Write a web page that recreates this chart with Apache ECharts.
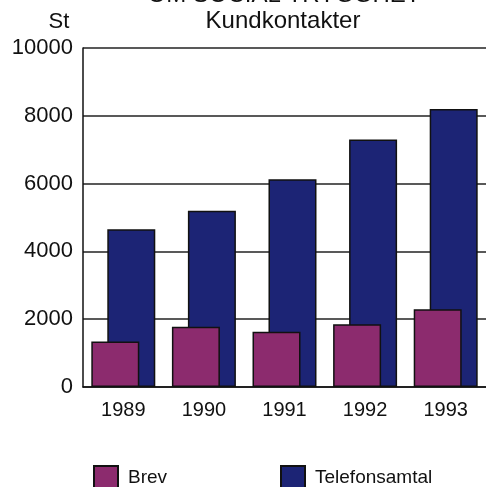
<!DOCTYPE html>
<html>
<head>
<meta charset="utf-8">
<script src="https://cdn.jsdelivr.net/npm/echarts@6/dist/echarts.min.js"></script>
<style>
html, body { margin: 0; padding: 0; background: #fff; }
#chart { width: 486px; height: 487px; }
</style>
</head>
<body>
<div id="chart"></div>
<script>
// data
var years = ['1989', '1990', '1991', '1992', '1993'];
var brev = [1340, 1780, 1630, 1850, 2290];
var telefon = [4650, 5200, 6130, 7300, 8200];
var yTicks = [0, 2000, 4000, 6000, 8000, 10000];

var font = '"Liberation Sans", Arial, Helvetica, sans-serif';
var chart = echarts.init(document.getElementById('chart'));

chart.setOption({
	backgroundColor: '#fff',
	animation: false,
	textStyle: { fontFamily: font },
	graphic: [
		{ type: 'text', x: 284, y: -5, style: { text: 'OM SOCIAL TRYGGHET', font: '24px ' + font, fill: '#111', align: 'center', verticalAlign: 'middle' } },
		{ type: 'text', x: 283, y: 21.5, style: { text: 'Kundkontakter', font: '24px ' + font, fill: '#111', align: 'center', verticalAlign: 'middle' } },
		{ type: 'text', x: 59, y: 21.5, style: { text: 'St', font: '22px ' + font, fill: '#111', align: 'center', verticalAlign: 'middle' } }
	],
	legend: [
		{
			left: 93, top: 465, padding: 0,
			itemWidth: 24, itemHeight: 24,
			icon: 'rect',
			data: ['Brev'],
			textStyle: { fontSize: 19, color: '#111', padding: [0, 0, 0, 5] }
		},
		{
			left: 280, top: 465, padding: 0,
			itemWidth: 24, itemHeight: 24,
			icon: 'rect',
			data: ['Telefonsamtal'],
			textStyle: { fontSize: 19, color: '#111', padding: [0, 0, 0, 5] }
		}
	],
	grid: {
		left: 83,
		top: 48,
		width: 409,
		bottom: 100
	},
	xAxis: {
		type: 'category',
		data: years,
		axisLine: { lineStyle: { color: '#111', width: 1.5 } },
		axisTick: { show: false },
		axisLabel: { fontSize: 20, color: '#111', margin: 13 }
	},
	yAxis: {
		type: 'value',
		min: yTicks[0],
		max: yTicks[yTicks.length - 1],
		interval: yTicks[1] - yTicks[0],
		axisLine: { show: true, lineStyle: { color: '#111', width: 1.5 } },
		axisTick: { show: false },
		axisLabel: {
			fontSize: 22, color: '#111', margin: 10,
			formatter: function (v) { return String(v); }
		},
		splitLine: { lineStyle: { color: '#222', width: 1.5 } }
	},
	series: [
		{
			name: 'Brev',
			type: 'bar',
			data: brev,
			z: 3,
			barWidth: 48,
			barGap: '-66.7%',
			itemStyle: { color: '#8c2b6e', borderColor: '#111', borderWidth: 1.5 }
		},
		{
			name: 'Telefonsamtal',
			type: 'bar',
			data: telefon,
			z: 2,
			barWidth: 48,
			itemStyle: { color: '#1c2475', borderColor: '#111', borderWidth: 1.5 }
		}
	]
});
</script>
</body>
</html>
